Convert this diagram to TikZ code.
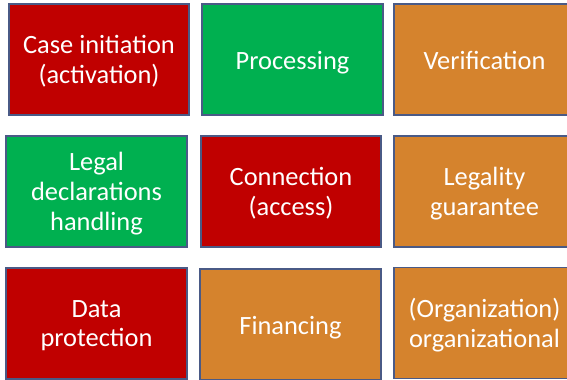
\documentclass[tikz,border=0pt]{standalone}
\usepackage{fontspec}
\setmainfont{Carlito}
\definecolor{boxred}{HTML}{C00000}
\definecolor{boxgreen}{HTML}{00B050}
\definecolor{boxorange}{HTML}{D5832D}
\definecolor{boxline}{HTML}{4A5A86}
\tikzset{
  tile/.style={draw=boxline, line width=1.2bp, minimum width=181bp, minimum height=111bp,
    inner sep=0pt},
  redtile/.style={tile, fill=boxred},
  greentile/.style={tile, fill=boxgreen},
  orangetile/.style={tile, fill=boxorange},
  caption/.style={inner sep=0pt, align=center, text=white,
    font=\fontsize{26.5}{30}\selectfont, yshift=-4.5bp,
    execute at begin node=\strut, execute at end node=\strut}
}
\begin{document}
\begin{tikzpicture}[x=1bp,y=-1bp]
\useasboundingbox (0,0) rectangle (567,379);
\clip (0,0) rectangle (567,379);
% first row
\node[redtile, minimum width=180bp] (case) at (99,59.5) {};
\node[greentile] (proc) at (292.5,59.5) {};
\node[orangetile] (verif) at (484.5,59.5) {};
% second row
\node[greentile] (legal) at (96.5,191.5) {};
\node[redtile, minimum width=180bp] (conn) at (291,191.5) {};
\node[orangetile] (guar) at (484.5,191.5) {};
% third row
\node[redtile] (data) at (96.5,323.5) {};
\node[orangetile] (fin) at (290.5,324.5) {};
\node[orangetile] (org) at (484.5,323) {};
% captions, centred in their tiles
\node[caption] (case-t) at (case.center) {Case initiation\\(activation)};
\node[caption] (proc-t) at (proc.center) {Processing};
\node[caption] (verif-t) at (verif.center) {Verification};
\node[caption] (legal-t) at (legal.center) {Legal\\declarations\\handling};
\node[caption] (conn-t) at (conn.center) {Connection\\(access)};
\node[caption] (guar-t) at (guar.center) {Legality\\guarantee};
\node[caption] (data-t) at (data.center) {Data\\protection};
\node[caption] (fin-t) at (fin.center) {Financing};
\node[caption] (org-t) at (org.center) {(Organization)\\organizational};
\end{tikzpicture}
\end{document}
